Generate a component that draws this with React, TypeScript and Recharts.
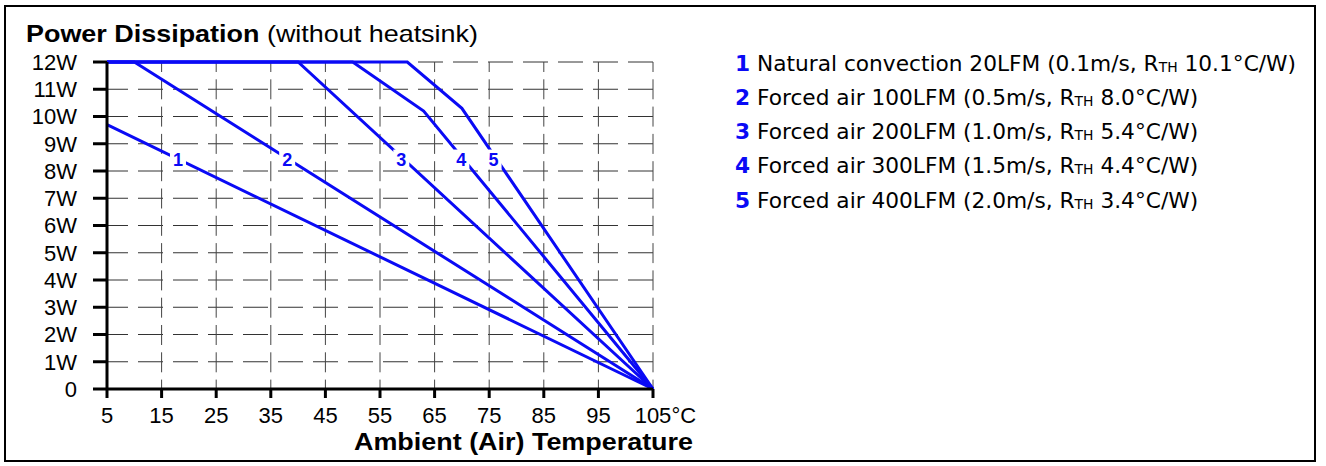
import React from "react";
import { LineChart, Line, XAxis, YAxis, CartesianGrid, ReferenceDot } from "recharts";

// axis ticks
const tempTicks = [5, 15, 25, 35, 45, 55, 65, 75, 85, 95, 105];
const wattTicks = [0, 1, 2, 3, 4, 5, 6, 7, 8, 9, 10, 11, 12];

// derating curves: ambient temperature (°C) vs. power (W)
const curve1Temp = [5, 105];
const curve1Watt = [9.7, 0];
const curve2Temp = [5, 10, 105];
const curve2Watt = [12, 12, 0];
const curve3Temp = [5, 40, 105];
const curve3Watt = [12, 12, 0];
const curve4Temp = [5, 50, 63, 105];
const curve4Watt = [12, 12, 10.2, 0];
const curve5Temp = [5, 60, 70, 105];
const curve5Watt = [12, 12, 10.3, 0];

// curve number tags placed on the lines
const tagText = ["1", "2", "3", "4", "5"];
const tagTemp = [18, 38, 58.9, 69.9, 75.8];
const tagWatt = [8.42, 8.42, 8.42, 8.42, 8.42];

// legend
const legendNames = [
  "Natural convection 20LFM",
  "Forced air 100LFM",
  "Forced air 200LFM",
  "Forced air 300LFM",
  "Forced air 400LFM",
];
const legendSpeeds = ["0.1m/s", "0.5m/s", "1.0m/s", "1.5m/s", "2.0m/s"];
const legendRth = ["10.1", "8.0", "5.4", "4.4", "3.4"];

const BLUE = "#0a0af5";
const ARIAL = "Liberation Sans, Arial, Helvetica, sans-serif";

const toPoints = (t: number[], w: number[]) => t.map((temp, i) => ({ temp, power: w[i] }));

const curves = [
  toPoints(curve1Temp, curve1Watt),
  toPoints(curve2Temp, curve2Watt),
  toPoints(curve3Temp, curve3Watt),
  toPoints(curve4Temp, curve4Watt),
  toPoints(curve5Temp, curve5Watt),
];

const XTick = ({ x, y, payload }: any) => {
  const v = payload.value;
  return (
    <g transform={`translate(${x},${y})`}>
      <text x={0} y={0} dy={15.6} textAnchor="middle" fontSize={22} fill="#000" style={{ fontFamily: ARIAL }}>
        {v}
      </text>
      {v === 105 && (
        <text x={18.4} y={0} dy={15.6} textAnchor="start" fontSize={22} fill="#000" style={{ fontFamily: ARIAL }}>
          °C
        </text>
      )}
    </g>
  );
};

const CurveTag = ({ cx, cy, text }: any) => (
  <g>
    <rect x={cx - 8} y={cy - 10} width={16} height={20} fill="#fff" />
    <text
      x={cx}
      y={cy + 6.5}
      textAnchor="middle"
      fontSize={18}
      fontWeight="bold"
      fill={BLUE}
      style={{ fontFamily: ARIAL }}
    >
      {text}
    </text>
  </g>
);

export default function App() {
  return (
    <div style={{ position: "absolute", left: 0, top: 0, width: 1326, height: 466, background: "#fff" }}>
      <div
        style={{
          position: "absolute",
          left: 4,
          top: 5,
          width: 1312,
          height: 457,
          border: "2px solid #000",
          boxSizing: "border-box",
        }}
      />
      <div style={{ position: "absolute", left: 0, top: 0 }}>
        <LineChart width={1326} height={466} margin={{ top: 62, right: 673, bottom: 37, left: 0 }}>
          <CartesianGrid vertical={false} stroke="#333" strokeDasharray="25 10" strokeDashoffset={4} />
          <CartesianGrid horizontal={false} stroke="#444" strokeDasharray="20 7.3" strokeDashoffset={10} />
          <XAxis
            dataKey="temp"
            type="number"
            domain={[5, 105]}
            ticks={tempTicks}
            interval={0}
            height={40}
            axisLine={{ stroke: "#000", strokeWidth: 3 }}
            tickLine={{ stroke: "#000", strokeWidth: 3 }}
            tickSize={9}
            tickMargin={9}
            tick={<XTick />}
          />
          <YAxis
            type="number"
            domain={[0, 12]}
            ticks={wattTicks}
            interval={0}
            width={107}
            axisLine={{ stroke: "#000", strokeWidth: 3 }}
            tickLine={{ stroke: "#000", strokeWidth: 3 }}
            tickSize={14}
            tickMargin={16}
            tick={{ fill: "#000", fontSize: 22, style: { fontFamily: ARIAL } }}
            tickFormatter={(v: number) => (v === 0 ? "0" : `${v}W`)}
          />
          {curves.map((pts, i) => (
            <Line
              key={i}
              data={pts}
              dataKey="power"
              type="linear"
              stroke={BLUE}
              strokeWidth={3}
              dot={false}
              activeDot={false}
              isAnimationActive={false}
            />
          ))}
          {tagText.map((t, i) => (
            <ReferenceDot
              key={t}
              x={tagTemp[i]}
              y={tagWatt[i]}
              r={0}
              shape={(p: any) => <CurveTag {...p} text={t} />}
            />
          ))}
        </LineChart>
      </div>
      <svg width={1326} height={466} style={{ position: "absolute", left: 0, top: 0, pointerEvents: "none" }}>
        <text
          x={26}
          y={41.7}
          fontSize={24}
          fill="#000"
          style={{ fontFamily: ARIAL }}
          textLength={452}
          lengthAdjust="spacingAndGlyphs"
        >
          <tspan fontWeight="bold">Power Dissipation</tspan>
          <tspan> (without heatsink)</tspan>
        </text>
        <text
          x={354}
          y={450}
          fontSize={24}
          fontWeight="bold"
          fill="#000"
          style={{ fontFamily: ARIAL }}
          textLength={339}
          lengthAdjust="spacingAndGlyphs"
        >
          Ambient (Air) Temperature
        </text>
      </svg>
      <div
        style={{
          position: "absolute",
          left: 735,
          top: 46.6,
          fontFamily: "'DejaVu Sans', Verdana, sans-serif",
          fontSize: 21.7,
          lineHeight: "34.25px",
          color: "#000",
          whiteSpace: "nowrap",
        }}
      >
        {legendNames.map((name, i) => (
          <div key={name} style={{ height: 34.25 }}>
            <span style={{ color: BLUE, fontWeight: "bold" }}>{tagText[i]}</span> {name} ({legendSpeeds[i]}, R
            <span style={{ fontSize: "0.64em", lineHeight: 0, position: "relative", top: 1 }}>TH</span>{" "}
            {legendRth[i]}°C/W)
          </div>
        ))}
      </div>
    </div>
  );
}
